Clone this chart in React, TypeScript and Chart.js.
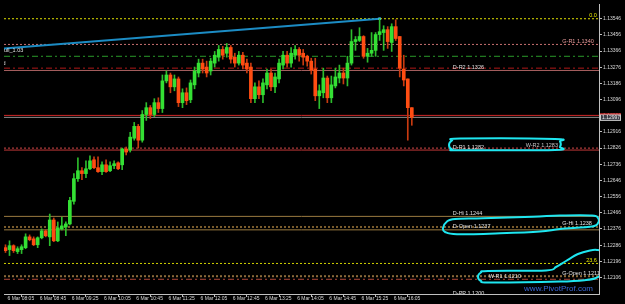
import { useEffect, useRef } from 'react';
import { Chart, registerables } from 'chart.js';

Chart.register(...registerables);

// ---- candle data (EURUSD 5-minute candles, 6 Mar 08:05 .. 16:30) ----
const opens = [
  1.12272, 1.12261, 1.12283, 1.12250, 1.12261, 1.12272, 1.12332, 1.12321, 1.12288, 1.12327,
  1.12365, 1.12332, 1.12426, 1.12310, 1.12376, 1.12387, 1.12404, 1.12530, 1.12656, 1.12700,
  1.12684, 1.12711, 1.12761, 1.12717, 1.12695, 1.12733, 1.12700, 1.12728, 1.12744, 1.12733,
  1.12821, 1.12815, 1.12881, 1.12947, 1.12870, 1.13013, 1.13051, 1.13013, 1.13079, 1.13046,
  1.13200, 1.13233, 1.13167, 1.13211, 1.13079, 1.13134, 1.13095, 1.13178, 1.13244, 1.13299,
  1.13277, 1.13255, 1.13299, 1.13332, 1.13375, 1.13354, 1.13386, 1.13332, 1.13299, 1.13343,
  1.13299, 1.13277, 1.13101, 1.13167, 1.13123, 1.13178, 1.13244, 1.13167, 1.13211, 1.13288,
  1.13343, 1.13299, 1.13343, 1.13375, 1.13354, 1.13337, 1.13310, 1.13266, 1.13117, 1.13134,
  1.13216, 1.13106, 1.13172, 1.13216, 1.13244, 1.13216, 1.13299, 1.13419, 1.13425, 1.13447,
  1.13337, 1.13354, 1.13370, 1.13458, 1.13469, 1.13485, 1.13414, 1.13502, 1.13447, 1.13266,
  1.13211, 1.13051,
];
const highs = [
  1.12288, 1.12310, 1.12288, 1.12277, 1.12288, 1.12349, 1.12343, 1.12332, 1.12332, 1.12376,
  1.12371, 1.12459, 1.12437, 1.12415, 1.12442, 1.12415, 1.12552, 1.12684, 1.12772, 1.12717,
  1.12755, 1.12783, 1.12777, 1.12777, 1.12750, 1.12761, 1.12750, 1.12755, 1.12750, 1.12826,
  1.12832, 1.12914, 1.12969, 1.12958, 1.13035, 1.13079, 1.13063, 1.13101, 1.13106, 1.13233,
  1.13255, 1.13244, 1.13233, 1.13222, 1.13156, 1.13161, 1.13205, 1.13277, 1.13321, 1.13321,
  1.13310, 1.13326, 1.13364, 1.13397, 1.13392, 1.13408, 1.13397, 1.13354, 1.13364, 1.13359,
  1.13321, 1.13299, 1.13189, 1.13200, 1.13211, 1.13266, 1.13266, 1.13244, 1.13321, 1.13364,
  1.13364, 1.13386, 1.13397, 1.13386, 1.13375, 1.13343, 1.13326, 1.13326, 1.13178, 1.13271,
  1.13227, 1.13227, 1.13271, 1.13288, 1.13271, 1.13337, 1.13485, 1.13447, 1.13496, 1.13452,
  1.13381, 1.13469, 1.13469, 1.13546, 1.13507, 1.13502, 1.13518, 1.13540, 1.13447, 1.13343,
  1.13211, 1.13051,
];
const lows = [
  1.12245, 1.12228, 1.12245, 1.12239, 1.12239, 1.12266, 1.12310, 1.12283, 1.12272, 1.12321,
  1.12332, 1.12283, 1.12305, 1.12305, 1.12370, 1.12338, 1.12398, 1.12514, 1.12640, 1.12651,
  1.12662, 1.12706, 1.12711, 1.12690, 1.12678, 1.12690, 1.12695, 1.12711, 1.12706, 1.12706,
  1.12788, 1.12804, 1.12870, 1.12826, 1.12859, 1.12980, 1.12991, 1.13002, 1.13024, 1.13024,
  1.13189, 1.13134, 1.13145, 1.13057, 1.13051, 1.13068, 1.13079, 1.13156, 1.13222, 1.13244,
  1.13222, 1.13233, 1.13277, 1.13310, 1.13321, 1.13332, 1.13299, 1.13277, 1.13288, 1.13266,
  1.13244, 1.13079, 1.13079, 1.13101, 1.13079, 1.13156, 1.13145, 1.13134, 1.13189, 1.13266,
  1.13277, 1.13277, 1.13321, 1.13310, 1.13288, 1.13282, 1.13238, 1.13090, 1.13046, 1.13106,
  1.13079, 1.13079, 1.13161, 1.13189, 1.13183, 1.13172, 1.13288, 1.13370, 1.13419, 1.13326,
  1.13304, 1.13337, 1.13337, 1.13425, 1.13370, 1.13381, 1.13364, 1.13425, 1.13222, 1.13172,
  1.12870, 1.12953,
];
const closes = [
  1.12255, 1.12283, 1.12255, 1.12266, 1.12277, 1.12332, 1.12316, 1.12288, 1.12327, 1.12365,
  1.12338, 1.12426, 1.12310, 1.12382, 1.12393, 1.12404, 1.12535, 1.12656, 1.12700, 1.12684,
  1.12711, 1.12755, 1.12717, 1.12695, 1.12733, 1.12695, 1.12728, 1.12739, 1.12711, 1.12821,
  1.12804, 1.12887, 1.12947, 1.12870, 1.13013, 1.13051, 1.13013, 1.13079, 1.13046, 1.13200,
  1.13233, 1.13167, 1.13211, 1.13079, 1.13134, 1.13090, 1.13189, 1.13255, 1.13299, 1.13266,
  1.13244, 1.13310, 1.13343, 1.13375, 1.13343, 1.13386, 1.13321, 1.13299, 1.13343, 1.13288,
  1.13266, 1.13101, 1.13167, 1.13123, 1.13189, 1.13244, 1.13167, 1.13222, 1.13299, 1.13343,
  1.13299, 1.13354, 1.13375, 1.13343, 1.13332, 1.13310, 1.13260, 1.13117, 1.13145, 1.13216,
  1.13106, 1.13178, 1.13222, 1.13244, 1.13216, 1.13299, 1.13419, 1.13430, 1.13447, 1.13337,
  1.13354, 1.13370, 1.13458, 1.13474, 1.13485, 1.13419, 1.13502, 1.13436, 1.13271, 1.13205,
  1.13051, 1.12997,
];

// ---- axis ticks ----
const timeTickIndex = [0, 8, 16, 24, 32, 40, 48, 56, 64, 72, 80, 88, 96];
const timeLabels = [
  '6 Mar 08:05', '6 Mar 08:45', '6 Mar 09:25', '6 Mar 10:05', '6 Mar 10:45', '6 Mar 11:25',
  '6 Mar 12:05', '6 Mar 12:45', '6 Mar 13:25', '6 Mar 14:05', '6 Mar 14:45', '6 Mar 15:25',
  '6 Mar 16:05',
];
const priceTicks = [
  1.12106, 1.12196, 1.12286, 1.12376, 1.12466, 1.12556, 1.12646, 1.12736, 1.12826,
  1.12916, 1.13006, 1.13096, 1.13186, 1.13276, 1.13366, 1.13456, 1.13546,
];

// ---- horizontal levels (pivots, fibo, bid/ask) ----
const levelValues = [
  1.13546, 1.13403, 1.13337, 1.13271, 1.13258, 1.13008, 1.12997, 1.12826,
  1.12815, 1.12446, 1.12387, 1.12371, 1.12184, 1.12113, 1.12096, 1.12000,
];
const levelNames = [
  '0.0', 'G-R1 1.1340', '', '', 'D-R2 1.1326', '', '', 'W-R2 1.1283',
  'D-R1 1.1282', 'D-Hi 1.1244', 'G-Hi 1.1238', 'D-Open 1.1237', '23.6', 'G-Open 1.1211', 'W-R1 1.1210', 'D-PP 1.1200',
];

// trend line (index, price)
const trendIndex = [-0.37, 93];
const trendPrice = [1.13381, 1.13546];

// ---- styles (kept apart from data) ----
const DOT = [2, 2];
const DASHDOT = [6, 3, 2, 3];
const levelStyles = [
  { color: '#e0e000', dash: DOT, width: 1 },
  { color: '#c87070', dash: DOT, width: 1 },
  { color: '#2a9a2a', dash: DASHDOT, width: 1 },
  { color: '#b01818', dash: DASHDOT, width: 1 },
  { color: '#a86060', dash: [], width: 1 },
  { color: '#d02828', dash: [], width: 1 },
  { color: '#8c8c8c', dash: [], width: 1 },
  { color: '#d04848', dash: DOT, width: 1 },
  { color: '#c03838', dash: [], width: 1 },
  { color: '#9a7a40', dash: [], width: 1 },
  { color: '#7a5c2c', dash: DOT, width: 2 },
  { color: '#9a7a40', dash: [], width: 1 },
  { color: '#d0d000', dash: DOT, width: 1 },
  { color: '#8a6a3a', dash: DOT, width: 2 },
  { color: '#b04838', dash: DASHDOT, width: 1 },
  { color: '#808080', dash: [], width: 1 },
];
const tagStyles = [
  { at: 147.0, align: 'right', color: '#e6e600' },
  { at: 138.4, align: 'left', color: '#e89a9a' },
  null, null,
  { at: 111.2, align: 'left', color: '#e0e0e0' },
  null, null,
  { at: 129.3, align: 'left', color: '#c4c4c4' },
  { at: 111.2, align: 'left', color: '#e0e0e0' },
  { at: 111.2, align: 'left', color: '#e0e0e0' },
  { at: 138.4, align: 'left', color: '#e0e0e0' },
  { at: 111.2, align: 'left', color: '#e0e0e0' },
  { at: 147.0, align: 'right', color: '#e6e600' },
  { at: 138.4, align: 'left', color: '#e0e0e0' },
  { at: 120.1, align: 'left', color: '#e0e0e0' },
  { at: 111.2, align: 'left', color: '#e0e0e0' },
];

const X_MIN = -0.37;
const X_MAX = 147.53;
const Y_MIN = 1.12014;
const Y_MAX = 1.13628;
const FONT = 'Liberation Sans, Arial, sans-serif';

const BULL = '#34e034';
const BULL_WICK = '#2cbc2c';
const BEAR = '#ff4d12';
const BEAR_WICK = '#c83a10';
const CYAN = '#1ee6f0';

type Pt = [number, number];
function smoothClosed(ctx: CanvasRenderingContext2D, pts: Pt[]) {
  const n = pts.length;
  ctx.beginPath();
  ctx.moveTo(pts[0][0], pts[0][1]);
  for (let i = 0; i < n; i++) {
    const p0 = pts[(i - 1 + n) % n];
    const p1 = pts[i];
    const p2 = pts[(i + 1) % n];
    const p3 = pts[(i + 2) % n];
    ctx.bezierCurveTo(
      p1[0] + (p2[0] - p0[0]) / 6, p1[1] + (p2[1] - p0[1]) / 6,
      p2[0] - (p3[0] - p1[0]) / 6, p2[1] - (p3[1] - p1[1]) / 6,
      p2[0], p2[1],
    );
  }
  ctx.closePath();
}

const overlay = {
  id: 'overlay',
  afterDraw(chart: any) {
    const { ctx, chartArea: a, scales } = chart;
    const xs = scales.x;
    const ys = scales.y;
    ctx.save();
    ctx.beginPath();
    ctx.rect(a.left, a.top, a.right - a.left, a.bottom - a.top);
    ctx.clip();

    // level labels
    ctx.font = `5.5px ${FONT}`;
    ctx.textBaseline = 'alphabetic';
    levelNames.forEach((name, k) => {
      const st = tagStyles[k];
      if (!name || !st) return;
      ctx.fillStyle = st.color;
      ctx.textAlign = st.align as CanvasTextAlign;
      ctx.fillText(name, xs.getPixelForValue(st.at), ys.getPixelForValue(levelValues[k]) - 1.5);
    });

    // left object labels (cut off by the left border)
    ctx.fillStyle = '#e0e0e0';
    ctx.textAlign = 'left';
    ctx.fillText('ull_1.03', a.left, 52);
    ctx.fillText('d', a.left - 1.5, 64.5);

    // watermark
    ctx.font = `8px ${FONT}`;
    ctx.fillStyle = '#3a68d8';
    ctx.textAlign = 'right';
    ctx.fillText('www.PivotProf.com', a.right - 6, 290.5);

    // hand-drawn cyan highlight loops
    ctx.strokeStyle = CYAN;
    ctx.lineWidth = 2;
    ctx.lineJoin = 'round';
    const loops: Pt[][] = [
      [[449, 145], [452, 140.5], [460, 138.6], [555, 139], [560, 141.5], [560, 147], [555, 150], [460, 150.2], [452, 149.5]],
      [[443, 228], [447, 221.5], [455, 219], [483, 218.3], [533, 216.7], [560, 215.5], [592, 215.5], [598, 218], [598, 223], [592, 226.5], [560, 229], [540, 231.5], [500, 233.3], [457, 234.3], [445, 232]],
      [[478, 276.7], [481, 272.5], [488, 271], [546, 270.5], [556, 267], [566, 261], [578, 254], [590, 250.5], [597, 250], [601, 253], [601, 273], [596, 278], [586, 280], [560, 281.5], [490, 282.5], [481, 281]],
    ];
    loops.forEach((pts) => {
      smoothClosed(ctx, pts);
      ctx.stroke();
    });
    ctx.restore();

    // current price box on the price axis
    const last = closes[closes.length - 1];
    const py = ys.getPixelForValue(last);
    ctx.save();
    ctx.fillStyle = '#3a3a44';
    ctx.fillRect(a.right + 1, py - 3.5, 21, 7);
    ctx.strokeStyle = '#c8c8c8';
    ctx.lineWidth = 1;
    ctx.strokeRect(a.right + 1.5, py - 3, 20, 6);
    ctx.strokeStyle = '#e02020';
    ctx.beginPath();
    ctx.moveTo(a.right + 1, py - 3.5);
    ctx.lineTo(a.right + 22, py - 3.5);
    ctx.stroke();
    ctx.fillStyle = '#f0f0f0';
    ctx.font = `5px ${FONT}`;
    ctx.textAlign = 'left';
    ctx.textBaseline = 'middle';
    ctx.fillText(last.toFixed(5), a.right + 3, py + 0.5);
    ctx.restore();
  },
};

export default function App() {
  const ref = useRef<HTMLCanvasElement>(null);
  useEffect(() => {
    document.body.style.margin = '0';
    document.body.style.background = '#000';
    const canvas = ref.current as HTMLCanvasElement;
    const idx = opens.map((_, i) => i);
    const bull = idx.map((i) => closes[i] >= opens[i]);

    const levelSets = levelValues.map((v, k) => ({
      type: 'line' as const,
      data: [{ x: X_MIN, y: v }, { x: X_MAX, y: v }],
      borderColor: levelStyles[k].color,
      borderWidth: levelStyles[k].width,
      borderDash: levelStyles[k].dash,
      pointRadius: 0,
      order: 10,
    }));

    const chart = new Chart(canvas, {
      type: 'bar',
      data: {
        datasets: [
          {
            type: 'bar',
            data: idx.map((i) => ({ x: i, y: [opens[i], closes[i]] })) as any,
            backgroundColor: idx.map((i) => (bull[i] ? BULL : BEAR)),
            barThickness: 3,
            grouped: false,
            borderWidth: 0,
            order: 1,
          },
          {
            type: 'bar',
            data: idx.map((i) => ({ x: i, y: [lows[i], highs[i]] })) as any,
            backgroundColor: idx.map((i) => (bull[i] ? BULL_WICK : BEAR_WICK)),
            barThickness: 1,
            grouped: false,
            borderWidth: 0,
            order: 2,
          },
          {
            type: 'line',
            data: trendIndex.map((t, k) => ({ x: t, y: trendPrice[k] })) as any,
            borderColor: '#1c8cc4',
            borderWidth: 2,
            pointRadius: [0, 1.8],
            pointStyle: 'rect',
            pointBackgroundColor: '#50d0ff',
            pointBorderWidth: 0,
            order: 5,
          },
          ...(levelSets as any[]),
        ],
      },
      options: {
        responsive: false,
        animation: false,
        layout: { padding: 0 },
        plugins: {
          legend: { display: false },
          tooltip: { enabled: false },
          title: { display: false },
        },
        scales: {
          x: {
            type: 'linear',
            position: 'bottom',
            min: X_MIN,
            max: X_MAX,
            offset: false,
            afterBuildTicks: (s: any) => {
              s.ticks = timeTickIndex.map((v) => ({ value: v }));
            },
            afterFit: (s: any) => {
              s.height = 10;
              s.paddingLeft = 0;
              s.paddingRight = 0;
            },
            ticks: {
              autoSkip: false,
              maxRotation: 0,
              minRotation: 0,
              align: 'start',
              labelOffset: 2,
              padding: -1,
              color: '#d8d8d8',
              font: { size: 5, family: FONT },
              callback: (_v: any, i: number) => timeLabels[i],
            },
            grid: { drawOnChartArea: false, drawTicks: true, tickLength: 3, color: '#c0c0c0' },
            border: { display: true, color: '#c0c0c0', width: 1 },
          },
          y: {
            type: 'linear',
            position: 'right',
            min: Y_MIN,
            max: Y_MAX,
            afterBuildTicks: (s: any) => {
              s.ticks = priceTicks.map((v) => ({ value: v }));
            },
            afterFit: (s: any) => {
              s.width = 26;
              s.paddingTop = 0;
              s.paddingBottom = 0;
            },
            ticks: {
              autoSkip: false,
              padding: 1,
              color: '#d8d8d8',
              font: { size: 5, family: FONT },
              callback: (v: any) => Number(v).toFixed(5),
            },
            grid: { drawOnChartArea: false, drawTicks: true, tickLength: 3, color: '#c0c0c0' },
            border: { display: true, color: '#c0c0c0', width: 1 },
          },
        },
      },
      plugins: [overlay],
    });
    return () => chart.destroy();
  }, []);
  return (
    <div style={{ width: 625, height: 304, background: '#000' }}>
      <canvas ref={ref} width={625} height={304} style={{ display: 'block' }} />
    </div>
  );
}
